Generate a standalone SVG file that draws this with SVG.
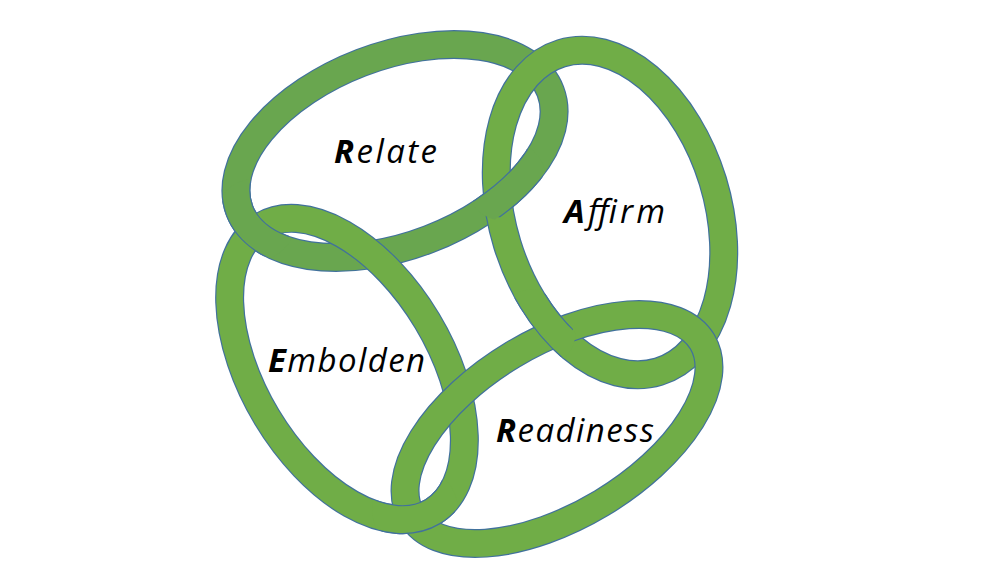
<svg xmlns="http://www.w3.org/2000/svg" xmlns:xlink="http://www.w3.org/1999/xlink" width="1008" height="567" viewBox="0 0 1008 567">
<style>
.o{fill:none;stroke:#41719C;stroke-width:29}
.f{fill:none;stroke:#70AD47;stroke-width:26.6}
.fr{fill:none;stroke:#69A64F;stroke-width:26.6}
.lbl{font-family:"Open Sans","Liberation Sans",sans-serif;font-style:italic;font-size:33px;fill:#000}
.cap{font-weight:bold}
</style>
<defs>
<ellipse id="eR" cx="395" cy="151" rx="166.5" ry="94.5" transform="rotate(-21 395 151)"/>
<ellipse id="eA" cx="610" cy="212.5" rx="107.5" ry="166.5" transform="rotate(-17 610 212.5)"/>
<ellipse id="eE" cx="347" cy="369" rx="93.5" ry="166.5" transform="rotate(-31 347 369)"/>
<ellipse id="eD" cx="557" cy="429" rx="169.5" ry="86.5" transform="rotate(-31 557 429)"/>
<clipPath id="c1"><circle cx="505" cy="180" r="38"/></clipPath>
<clipPath id="c2"><circle cx="255" cy="220" r="38"/></clipPath>
<clipPath id="c3"><circle cx="535" cy="330" r="38"/></clipPath>
<clipPath id="c4"><circle cx="415" cy="510" r="40"/></clipPath>
<clipPath id="g1"><circle cx="505" cy="180" r="41"/></clipPath>
<clipPath id="g2"><circle cx="255" cy="220" r="41"/></clipPath>
<clipPath id="g3"><circle cx="535" cy="330" r="41"/></clipPath>
<clipPath id="g4"><circle cx="415" cy="510" r="43"/></clipPath>
</defs>
<rect width="1008" height="567" fill="#fff"/>
<g id="connectors"></g>
<g id="relate">
<use xlink:href="#eR" class="o"/><use xlink:href="#eR" class="fr"/>
</g>
<g id="affirm">
<use xlink:href="#eA" class="o"/><use xlink:href="#eA" class="f"/>
</g>
<g id="embolden">
<use xlink:href="#eE" class="o"/><use xlink:href="#eE" class="f"/>
</g>
<g id="readiness">
<use xlink:href="#eD" class="o"/><use xlink:href="#eD" class="f"/>
</g>
<g id="weave">
<use xlink:href="#eR" class="o" clip-path="url(#c1)"/><use xlink:href="#eR" class="fr" clip-path="url(#g1)"/>
<use xlink:href="#eR" class="o" clip-path="url(#c2)"/><use xlink:href="#eR" class="fr" clip-path="url(#g2)"/>
<use xlink:href="#eA" class="o" clip-path="url(#c3)"/><use xlink:href="#eA" class="f" clip-path="url(#g3)"/>
<use xlink:href="#eE" class="o" clip-path="url(#c4)"/><use xlink:href="#eE" class="f" clip-path="url(#g4)"/>
</g>
<g id="labels">
<text class="lbl" x="334" y="163" textLength="103" lengthAdjust="spacing"><tspan class="cap">R</tspan>elate</text>
<text class="lbl" x="564" y="223" textLength="101" lengthAdjust="spacing"><tspan class="cap">A</tspan>ffirm</text>
<text class="lbl" x="268" y="372" textLength="157" lengthAdjust="spacing"><tspan class="cap">E</tspan>mbolden</text>
<text class="lbl" x="496" y="442" textLength="158" lengthAdjust="spacing"><tspan class="cap">R</tspan>eadiness</text>
</g>
</svg>
